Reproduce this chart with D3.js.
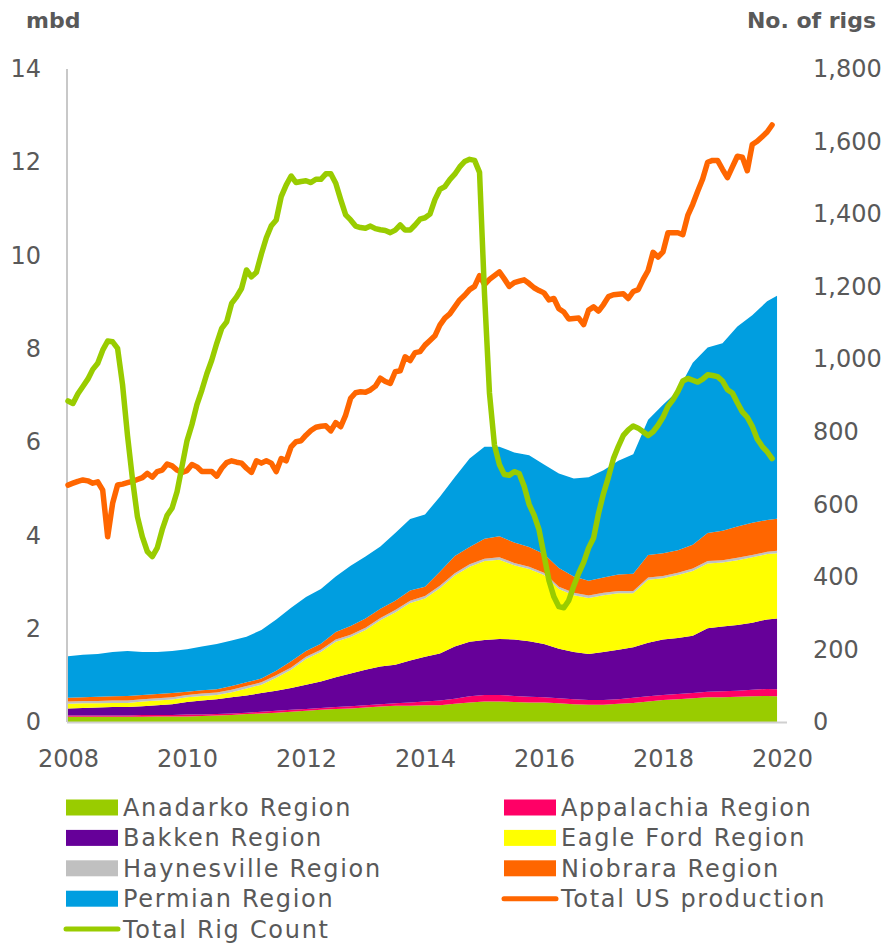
<!DOCTYPE html>
<html>
<head>
    <meta charset="UTF-8">
    <script src="https://d3js.org/d3.v7.min.js"></script>
    <style>
        body { margin: 0; background: #fff; }
        text { font-family: "DejaVu Sans", sans-serif; fill: #595959; }
    </style>
</head>
<body>
    <svg id="chart" width="885" height="944"></svg>
    <script>
        // months since Jan 2008 for the stacked regions (quarterly readings)
        const areaMonths = [0,3,6,9,12,15,18,21,24,27,30,33,36,39,42,45,48,51,54,57,60,63,66,69,72,75,78,81,84,87,90,93,96,99,102,105,108,111,114,117,120,123,126,129,132,135,138,141,143];

        // mbd per region
        const anadarko = [.11,.11,.11,.11,.11,.11,.12,.12,.12,.13,.14,.15,.17,.18,.20,.22,.24,.26,.28,.29,.31,.33,.35,.35,.36,.36,.39,.42,.44,.44,.43,.42,.42,.40,.38,.37,.37,.39,.41,.44,.47,.49,.51,.53,.53,.54,.55,.56,.55];
        const appalachia = [.03,.03,.03,.03,.03,.04,.03,.03,.04,.03,.03,.03,.03,.04,.04,.04,.04,.04,.04,.05,.05,.05,.05,.07,.08,.10,.11,.13,.14,.14,.13,.12,.11,.11,.11,.10,.10,.10,.11,.11,.11,.11,.11,.12,.13,.13,.14,.15,.15];
        const bakken = [.15,.16,.17,.18,.18,.19,.21,.23,.27,.30,.32,.35,.37,.40,.43,.47,.52,.57,.64,.70,.76,.81,.83,.90,.96,1.01,1.12,1.17,1.18,1.20,1.21,1.19,1.14,1.06,1.01,.99,1.03,1.06,1.08,1.15,1.19,1.20,1.23,1.36,1.39,1.41,1.44,1.49,1.52];
        const eagleFord = [.10,.10,.09,.09,.09,.10,.10,.10,.10,.10,.09,.11,.15,.18,.28,.39,.55,.63,.76,.78,.85,.99,1.12,1.23,1.25,1.40,1.52,1.61,1.69,1.70,1.59,1.55,1.48,1.28,1.22,1.20,1.22,1.21,1.16,1.35,1.31,1.35,1.39,1.39,1.37,1.39,1.40,1.40,1.40];
        const haynesville = [.05,.05,.05,.05,.05,.05,.05,.05,.05,.05,.05,.05,.05,.05,.05,.05,.05,.05,.05,.05,.05,.05,.05,.05,.05,.05,.05,.05,.05,.05,.05,.05,.05,.05,.05,.05,.05,.05,.05,.05,.05,.05,.05,.05,.05,.05,.05,.05,.05];
        const niobrara = [.08,.08,.09,.09,.10,.09,.09,.09,.07,.07,.07,.08,.08,.08,.10,.13,.12,.13,.16,.19,.20,.20,.20,.22,.20,.30,.37,.37,.43,.45,.44,.42,.40,.40,.35,.32,.33,.35,.37,.48,.49,.48,.51,.60,.63,.67,.69,.68,.69];
        const permian = [.89,.91,.92,.95,.96,.92,.90,.90,.91,.94,.97,.98,.98,1.04,1.10,1.15,1.16,1.17,1.19,1.29,1.33,1.33,1.45,1.53,1.55,1.61,1.69,1.90,1.97,1.92,1.93,1.97,1.92,2.03,2.10,2.22,2.30,2.44,2.56,2.90,3.18,3.42,3.90,3.98,4.02,4.29,4.45,4.69,4.78];

        // monthly from Jan 2008
        const production = [5.08,5.12,5.16,5.19,5.17,5.12,5.15,4.97,3.97,4.69,
            5.08,5.10,5.13,5.16,5.20,5.24,5.33,5.25,5.37,5.40,
            5.53,5.49,5.40,5.35,5.39,5.52,5.47,5.37,5.37,5.37,
            5.27,5.44,5.56,5.60,5.57,5.55,5.44,5.35,5.60,5.55,
            5.60,5.55,5.37,5.65,5.60,5.90,6.01,6.03,6.15,6.25,
            6.32,6.34,6.35,6.24,6.42,6.33,6.58,6.94,7.06,7.08,
            7.07,7.12,7.20,7.37,7.30,7.26,7.51,7.53,7.83,7.75,
            7.92,7.94,8.08,8.18,8.28,8.51,8.66,8.75,8.90,9.05,
            9.15,9.27,9.34,9.57,9.38,9.49,9.57,9.65,9.50,9.34,
            9.42,9.45,9.48,9.40,9.31,9.25,9.20,9.05,9.08,8.86,
            8.79,8.64,8.65,8.66,8.52,8.83,8.90,8.81,8.95,9.12,
            9.16,9.17,9.18,9.08,9.23,9.27,9.49,9.68,10.07,9.97,
            10.08,10.49,10.49,10.49,10.45,10.86,11.10,11.38,11.64,12.00,
            12.04,12.04,11.85,11.67,11.90,12.13,12.11,11.82,12.38,12.45,
            12.55,12.65,12.80];
        const rigCount = [885,878,905,925,945,972,989,1025,1050,1048,
            1030,930,790,670,566,510,470,456,480,530,
            570,590,635,705,775,820,875,915,960,998,
            1044,1085,1103,1154,1172,1195,1246,1227,1240,1290,
            1335,1368,1384,1448,1480,1505,1487,1490,1492,1487,
            1496,1496,1511,1511,1485,1440,1398,1384,1367,1363,
            1361,1367,1360,1357,1355,1349,1356,1370,1356,1356,
            1370,1386,1390,1400,1440,1468,1476,1495,1510,1530,
            1545,1551,1548,1515,1180,907,764,710,682,680,
            690,685,650,600,570,530,460,390,345,318,
            315,335,375,410,440,480,507,575,630,675,
            726,760,790,805,816,810,800,790,800,818,
            840,870,888,911,940,947,942,937,945,957,
            955,952,940,916,907,880,855,840,815,780,
            760,745,726];

        const yearTicks = [2008, 2010, 2012, 2014, 2016, 2018, 2020];
        const leftTicks = [0, 2, 4, 6, 8, 10, 12, 14];
        const rightTicks = [0, 200, 400, 600, 800, 1000, 1200, 1400, 1600, 1800];

        const regions = [
            { key: "Anadarko Region", values: anadarko, color: "#99cc00" },
            { key: "Appalachia Region", values: appalachia, color: "#ff0066" },
            { key: "Bakken Region", values: bakken, color: "#660099" },
            { key: "Eagle Ford Region", values: eagleFord, color: "#ffff00" },
            { key: "Haynesville Region", values: haynesville, color: "#c0c0c0" },
            { key: "Niobrara Region", values: niobrara, color: "#ff6600" },
            { key: "Permian Region", values: permian, color: "#009ee0" }
        ];

        const svg = d3.select("#chart");

        const x = d3.scaleLinear().domain([0, 144]).range([68, 782]);
        const yL = d3.scaleLinear().domain([0, 14]).range([722, 69]);
        const yR = d3.scaleLinear().domain([0, 1800]).range([722, 69]);

        // stacked areas
        const rows = areaMonths.map((m, i) => {
            const r = { m };
            regions.forEach(g => r[g.key] = g.values[i]);
            return r;
        });
        const stacked = d3.stack().keys(regions.map(g => g.key))(rows);

        const area = d3.area()
            .x(d => x(d.data.m))
            .y0(d => yL(d[0]))
            .y1(d => yL(d[1]));

        svg.append("g").selectAll("path")
            .data(stacked)
            .enter().append("path")
            .attr("d", area)
            .attr("fill", (d, i) => regions[i].color);

        // axis lines
        svg.append("line")
            .attr("x1", 67).attr("x2", 67)
            .attr("y1", yL(14)).attr("y2", yL(0))
            .attr("stroke", "#c8c8c8").attr("stroke-width", 2);
        svg.append("line")
            .attr("x1", 67).attr("x2", 787)
            .attr("y1", yL(0) + 0.5).attr("y2", yL(0) + 0.5)
            .attr("stroke", "#d0d0d0").attr("stroke-width", 2);

        // lines
        const prodLine = d3.line().x((d, i) => x(i)).y(d => yL(d));
        const rigLine = d3.line().x((d, i) => x(i)).y(d => yR(d));

        svg.append("path")
            .attr("d", prodLine(production))
            .attr("fill", "none")
            .attr("stroke", "#ff6600")
            .attr("stroke-width", 5.5)
            .attr("stroke-linejoin", "round")
            .attr("stroke-linecap", "round");

        svg.append("path")
            .attr("d", rigLine(rigCount))
            .attr("fill", "none")
            .attr("stroke", "#99cc00")
            .attr("stroke-width", 5.5)
            .attr("stroke-linejoin", "round")
            .attr("stroke-linecap", "round");

        // axes
        const axL = svg.append("g")
            .attr("transform", "translate(67,0)")
            .call(d3.axisLeft(yL).tickValues(leftTicks).tickSize(0).tickPadding(26));
        const axR = svg.append("g")
            .attr("transform", "translate(813,0)")
            .call(d3.axisRight(yR).tickValues(rightTicks).tickSize(0).tickPadding(0)
                .tickFormat(d3.format(",")));
        const axB = svg.append("g")
            .attr("transform", `translate(0,${yL(0)})`)
            .call(d3.axisBottom(x).tickValues(yearTicks.map(yr => (yr - 2008) * 12))
                .tickSize(0).tickPadding(28)
                .tickFormat((d, i) => yearTicks[i]));

        [axL, axR, axB].forEach(a => {
            a.select(".domain").remove();
            a.selectAll("text")
                .attr("fill", "#595959")
                .style("font-size", "24px")
                .style("font-family", "'DejaVu Sans', sans-serif");
        });

        // axis titles
        svg.append("text")
            .attr("x", 26).attr("y", 28)
            .style("font-size", "22px").style("font-weight", "bold")
            .text("mbd");
        svg.append("text")
            .attr("x", 876).attr("y", 28)
            .attr("text-anchor", "end")
            .style("font-size", "22px").style("font-weight", "bold")
            .text("No. of rigs");

        // legend
        const legendItems = [
            { label: "Anadarko Region", color: "#99cc00", type: "box", col: 0, row: 0 },
            { label: "Appalachia Region", color: "#ff0066", type: "box", col: 1, row: 0 },
            { label: "Bakken Region", color: "#660099", type: "box", col: 0, row: 1 },
            { label: "Eagle Ford Region", color: "#ffff00", type: "box", col: 1, row: 1 },
            { label: "Haynesville Region", color: "#c0c0c0", type: "box", col: 0, row: 2 },
            { label: "Niobrara Region", color: "#ff6600", type: "box", col: 1, row: 2 },
            { label: "Permian Region", color: "#009ee0", type: "box", col: 0, row: 3 },
            { label: "Total US production", color: "#ff6600", type: "line", col: 1, row: 3 },
            { label: "Total Rig Count", color: "#99cc00", type: "line", col: 0, row: 4 }
        ];
        const colX = [66, 504];

        const leg = svg.append("g").selectAll("g")
            .data(legendItems)
            .enter().append("g")
            .attr("transform", d => `translate(${colX[d.col]},${807.5 + d.row * 30.4})`);

        leg.filter(d => d.type === "box").append("rect")
            .attr("x", 0).attr("y", -8)
            .attr("width", 52).attr("height", 16)
            .attr("fill", d => d.color);

        leg.filter(d => d.type === "line").append("line")
            .attr("x1", 0).attr("x2", 52)
            .attr("y1", 0).attr("y2", 0)
            .attr("stroke", d => d.color)
            .attr("stroke-width", 5)
            .attr("stroke-linecap", "round");

        leg.append("text")
            .attr("x", 57).attr("y", 8.5)
            .style("font-size", "24px")
            .style("letter-spacing", "1.7px")
            .text(d => d.label);
    </script>
</body>
</html>
